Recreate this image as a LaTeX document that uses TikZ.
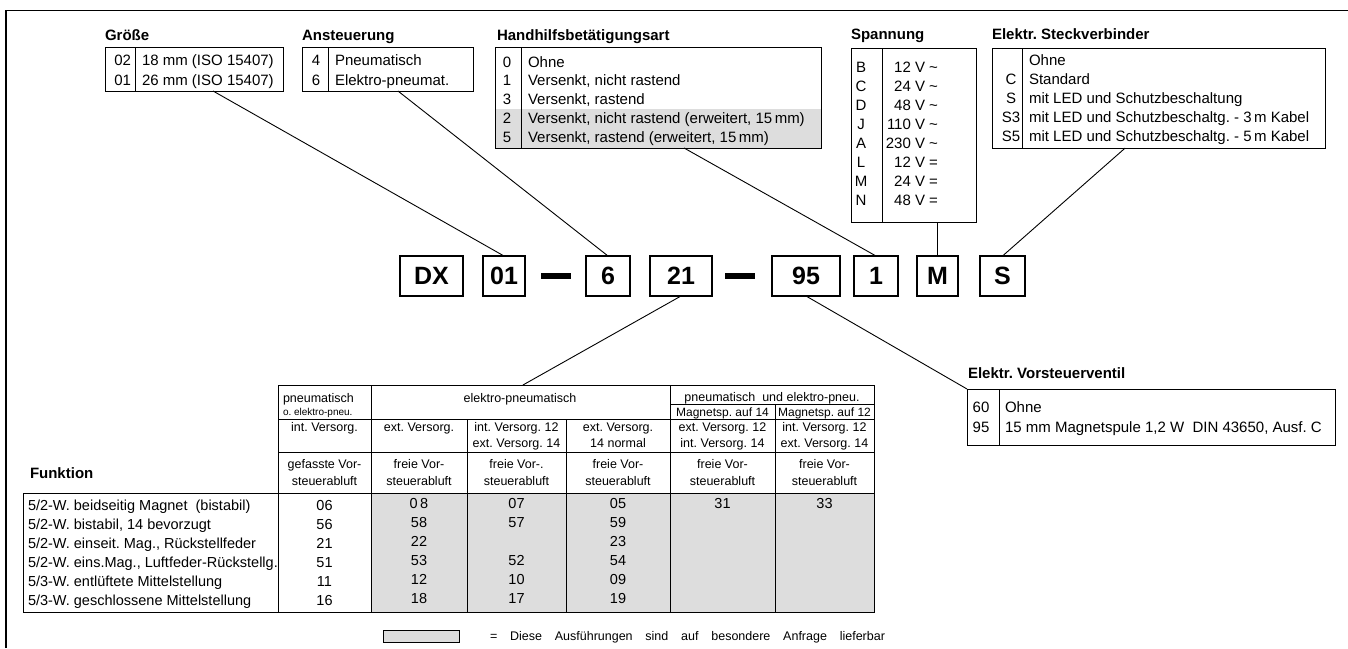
\documentclass[tikz,border=0pt]{standalone}
\usepackage{fontspec}
\setmainfont{Liberation Sans}
\usetikzlibrary{calc}
\definecolor{bggray}{RGB}{221,221,221}
\newcommand\fz[1]{\fontsize{#1}{#1}\selectfont}
\begin{document}
\frenchspacing
\begin{tikzpicture}[x=1pt,y=-1pt,
  every node/.style={inner sep=0pt,outer sep=0pt},
  txt/.style={font=\fz{15},anchor=base west},
  txtc/.style={font=\fz{15},anchor=base},
  txte/.style={font=\fz{15},anchor=base east},
  ttl/.style={font=\fz{15}\bfseries,anchor=base west},
  keybox/.style={draw,line width=0.9pt,anchor=north west},
  sep/.style={line width=0.9pt},
  wire/.style={line width=0.9pt},
  codebox/.style={draw,line width=1.3pt,minimum height=40pt,font=\fz{25}\bfseries},
  dashbar/.style={fill=black,minimum width=30pt,minimum height=6pt},
  hd/.style={font=\fz{12.5},anchor=base},
  hdsmall/.style={font=\fz{12},anchor=base},
  fn/.style={font=\fz{14.5},anchor=base west},
  num/.style={font=\fz{14.5},anchor=base},
  grid/.style={line width=0.9pt},
]
\useasboundingbox (0,0) rectangle (1348,648);
% frame
\draw[line width=1.5pt] (6,648) -- (6,10.5) -- (1348,10.5);

% ---------- Groesse
\node[ttl] (t1) at (105,40) {Größe};
\node[keybox,minimum width=178pt,minimum height=44pt] (b1) at (105,47) {};
\draw[sep] (135,47) -- (135,91);
\node[txte] (b1k1) at (131,65) {02};
\node[txte] (b1k2) at (131,85) {01};
\node[txt] (b1v1) at (142,65) {18 mm (ISO 15407)};
\node[txt] (b1v2) at (142,85) {26 mm (ISO 15407)};

% ---------- Ansteuerung
\node[ttl] (t2) at (302,40) {Ansteuerung};
\node[keybox,minimum width=171pt,minimum height=44pt] (b2) at (302,47) {};
\draw[sep] (328,47) -- (328,91);
\node[txtc] (b2k1) at (316,65) {4};
\node[txtc] (b2k2) at (316,85) {6};
\node[txt] (b2v1) at (335,65) {Pneumatisch};
\node[txt] (b2v2) at (335,85) {Elektro-pneumat.};

% ---------- Handhilfsbetaetigungsart
\fill[bggray] (495,108.5) rectangle (821,148);
\node[ttl] (t3) at (497,40) {Handhilfsbetätigungsart};
\node[keybox,minimum width=326pt,minimum height=101pt] (b3) at (495,47) {};
\draw[sep] (521,47) -- (521,148);
\foreach \k/\v [count=\i] in {0/Ohne,1/{Versenkt, nicht rastend},3/{Versenkt, rastend},2/{Versenkt, nicht rastend (erweitert, 15\,mm)},5/{Versenkt, rastend (erweitert, 15\,mm)}}{
  \node[txtc] (b3k\i) at (507,48.2+\i*18.8) {\k};
  \node[txt] (b3v\i) at (528,48.2+\i*18.8) {\v};
}

% ---------- Spannung
\node[ttl] (t4) at (851,39) {Spannung};
\node[keybox,minimum width=125pt,minimum height=174pt] (b4) at (851,48) {};
\draw[sep] (882,48) -- (882,222);
\foreach \k/\v [count=\i] in {B/12,C/24,D/48,J/110,A/230}{
  \node[txtc] (b4k\i) at (861,53+\i*19) {\k};
  \node[txte] (b4v\i) at (938,53+\i*19) {\v{} V \textasciitilde};
}
\foreach \k/\v [count=\i from 6] in {L/12,M/24,N/48}{
  \node[txtc] (b4k\i) at (861,53+\i*19) {\k};
  \node[txte] (b4v\i) at (938,53+\i*19) {\v{} V =};
}

% ---------- Steckverbinder
\node[ttl] (t5) at (992,39) {Elektr. Steckverbinder};
\node[keybox,minimum width=333pt,minimum height=100pt] (b5) at (992,48) {};
\draw[sep] (1022,48) -- (1022,148);
\foreach \k/\v [count=\i] in {{}/Ohne,C/Standard,S/{mit LED und Schutzbeschaltung},S3/{mit LED und Schutzbeschaltg. - 3\,m Kabel},S5/{mit LED und Schutzbeschaltg. - 5\,m Kabel}}{
  \node[txtc] (b5k\i) at (1011,46+\i*19) {\k};
  \node[txt] (b5v\i) at (1029,46+\i*19) {\v};
}

% ---------- code row
\node[codebox,minimum width=63pt] (cDX) at (431.5,276) {DX};
\node[codebox,minimum width=42pt] (c01) at (504,276) {01};
\node[dashbar] (d1) at (556,276) {};
\node[codebox,minimum width=44pt] (c6) at (608,276) {6};
\node[codebox,minimum width=62pt] (c21) at (681,276) {21};
\node[dashbar] (d2) at (739.5,276) {};
\node[codebox,minimum width=68pt] (c95) at (806,276) {95};
\node[codebox,minimum width=44pt] (c1) at (876,276) {1};
\node[codebox,minimum width=41pt] (cM) at (937.5,276) {M};
\node[codebox,minimum width=45pt] (cS) at (1002.5,276) {S};

% ---------- Vorsteuerventil
\node[ttl] (t6) at (968,378) {Elektr. Vorsteuerventil};
\node[keybox,minimum width=368pt,minimum height=56pt] (b6) at (967,389) {};
\draw[sep] (999,389) -- (999,445);
\node[txtc] (b6k1) at (981,412) {60};
\node[txtc] (b6k2) at (981,432) {95};
\node[txt] (b6v1) at (1005,412) {Ohne};
\node[txt] (b6v2) at (1005,432) {15 mm Magnetspule 1,2 W\ \ DIN 43650, Ausf. C};

% ---------- table
\fill[bggray] (371,493) rectangle (874,612);
\node[draw,line width=0.9pt,anchor=north west,minimum width=596pt,minimum height=227pt] (th) at (278,385) {};
\node[draw,line width=0.9pt,anchor=north west,minimum width=851pt,minimum height=119pt] (tf) at (23,493) {};
\draw[grid] (278,419) -- (874,419);
\draw[grid] (278,452) -- (874,452);
\draw[grid] (371,385) -- (371,612);
\draw[grid] (467,419) -- (467,612);
\draw[grid] (566,419) -- (566,612);
\draw[grid] (670,385) -- (670,612);
\draw[grid] (670,404) -- (874,404);
\draw[grid] (775,404) -- (775,612);

% header row 1
\node[hd,anchor=base west] (h1a) at (283,402) {pneumatisch};
\node[font=\fz{10},anchor=base west] (h1b) at (283,415.5) {o. elektro-pneu.};
\node[hd] (h2) at (520,402) {elektro-pneumatisch};
\node[hd] (h3) at (772,401) {pneumatisch\ \ und elektro-pneu.};
\node[hdsmall] (h3a) at (722.5,416) {Magnetsp. auf 14};
\node[hdsmall] (h3b) at (824.5,416) {Magnetsp. auf 12};
% header row 2
\node[hd] (r2a) at (324.5,431.5) {int. Versorg.};
\node[hd] (r2b) at (419,431.5) {ext. Versorg.};
\node[hd] (r2c) at (516.5,431.5) {int. Versorg. 12};
\node[hd] (r2c2) at (516.5,447) {ext. Versorg. 14};
\node[hd] (r2d) at (618,431.5) {ext. Versorg.};
\node[hd] (r2d2) at (618,447) {14 normal};
\node[hd] (r2e) at (722.5,431.5) {ext. Versorg. 12};
\node[hd] (r2e2) at (722.5,447) {int. Versorg. 14};
\node[hd] (r2f) at (824.5,431.5) {int. Versorg. 12};
\node[hd] (r2f2) at (824.5,447) {ext. Versorg. 14};
% header row 3
\node[hd] (r3a) at (324.5,468.5) {gefasste Vor-};
\node[hd] (r3b) at (419,468.5) {freie Vor-};
\node[hd] (r3c) at (516.5,468.5) {freie Vor-.};
\node[hd] (r3d) at (618,468.5) {freie Vor-};
\node[hd] (r3e) at (722.5,468.5) {freie Vor-};
\node[hd] (r3f) at (824.5,468.5) {freie Vor-};
\foreach \x [count=\i] in {324.5,419,516.5,618,722.5,824.5}{
  \node[hd] (r3s\i) at (\x,485.5) {steuerabluft};
}

% function column
\node[font=\fz{15}\bfseries,anchor=base west] (fk) at (30,478) {Funktion};
\foreach \t [count=\i] in {{5/2-W. beidseitig Magnet\ \ (bistabil)},{5/2-W. bistabil, 14 bevorzugt},{5/2-W. einseit. Mag., Rückstellfeder},{5/2-W. eins.Mag., Luftfeder-Rückstellg.},{5/3-W. entlüftete Mittelstellung},{5/3-W. geschlossene Mittelstellung}}{
  \node[fn] (fn\i) at (28,491+\i*19) {\t};
}
% numbers
\node[num] (n11) at (324.5,510) {06};
\node[num] (n12) at (419,508) {0\,8};
\node[num] (n13) at (516.5,508) {07};
\node[num] (n14) at (618,508) {05};
\node[num] (n15) at (722.5,508) {31};
\node[num] (n16) at (824.5,508) {33};
\node[num] (n21) at (324.5,529) {56};
\node[num] (n22) at (419,527) {58};
\node[num] (n23) at (516.5,527) {57};
\node[num] (n24) at (618,527) {59};
\node[num] (n31) at (324.5,548) {21};
\node[num] (n32) at (419,546) {22};
\node[num] (n34) at (618,546) {23};
\node[num] (n41) at (324.5,567) {51};
\node[num] (n42) at (419,565) {53};
\node[num] (n43) at (516.5,565) {52};
\node[num] (n44) at (618,565) {54};
\node[num] (n51) at (324.5,586) {11};
\node[num] (n52) at (419,584) {12};
\node[num] (n53) at (516.5,584) {10};
\node[num] (n54) at (618,584) {09};
\node[num] (n61) at (324.5,605) {16};
\node[num] (n62) at (419,603) {18};
\node[num] (n63) at (516.5,603) {17};
\node[num] (n64) at (618,603) {19};

% legend
\node[draw,fill=bggray,line width=0.9pt,minimum width=76pt,minimum height=12pt] (lg) at (421,636) {};
\node[font=\fz{12.5},anchor=base west] (lgt) at (490,640.5) {\makebox[395pt][s]{= Diese Ausführungen sind auf besondere Anfrage lieferbar}};

% connectors
\draw[wire] ($(b1.south west)!0.607!(b1.south east)$) -- (c01.north);
\draw[wire] ($(b2.south west)!0.561!(b2.south east)$) -- (c6.north);
\draw[wire] ($(b3.south west)!0.58!(b3.south east)$) -- (c1.north);
\draw[wire] (b4.south -| cM.north) -- (cM.north);
\draw[wire] ($(b5.south west)!0.40!(b5.south east)$) -- (cS.north);
\draw[wire] (c21.south) -- ($(th.north west)!0.411!(th.north east)$);
\draw[wire] (c95.south) -- (b6.north west);
\end{tikzpicture}
\end{document}
